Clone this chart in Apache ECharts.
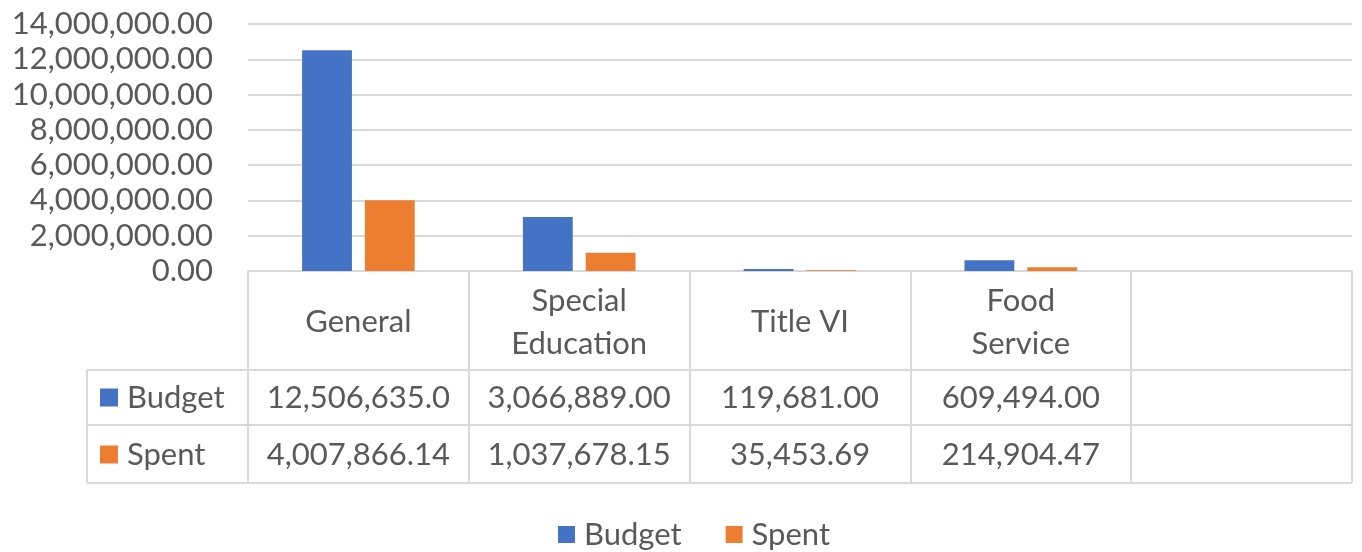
<!DOCTYPE html>
<html>
<head>
<meta charset="utf-8">
<script src="https://cdn.jsdelivr.net/npm/echarts@6/dist/echarts.min.js"></script>
<style>html,body{margin:0;padding:0;background:#fff}#c{width:1362px;height:552px}</style>
</head>
<body>
<div id="c"></div>
<script>
const categories = ['General', 'Special\nEducation', 'Title VI', 'Food\nService', ''];
const budget = [12506635.00, 3066889.00, 119681.00, 609494.00, null];
const spent = [4007866.14, 1037678.15, 35453.69, 214904.47, null];
const yTicks = { min: 0, max: 14000000, interval: 2000000 };

const FONT = 'Lato';
const FS = 31;
const TXT = '#595959';
const LINE = '#d9d9d9';
const fmt = v => v == null ? '' : v.toLocaleString('en-US', { minimumFractionDigits: 2, maximumFractionDigits: 2 });

const chart = echarts.init(document.getElementById('c'));
const gridLeft = 248, gridRight = 10, gridTop = 24, gridBottom = 281;
const axisY = 552 - gridBottom;
const rows = [axisY, 370, 425, 483];

function valueAxis(values, margin) {
  return {
    type: 'category', gridIndex: 0, position: 'bottom',
    data: values.map(fmt),
    axisLine: { show: false }, axisTick: { show: false },
    axisLabel: {
      interval: 0, margin: margin, verticalAlign: 'middle',
      color: TXT, fontFamily: FONT, fontSize: FS,
      width: 194, overflow: 'truncate', ellipsis: ''
    }
  };
}

chart.setOption({
  animation: false,
  textStyle: { fontFamily: FONT },
  grid: { left: gridLeft, right: gridRight, top: gridTop, bottom: gridBottom },
  legend: [
    {
      data: ['Budget', 'Spent'], bottom: -3, left: 553,
      icon: 'rect', itemWidth: 17, itemHeight: 17, itemGap: 44,
      textStyle: { color: TXT, fontFamily: FONT, fontSize: FS, padding: [0, 0, 0, 4] }
    },
    {
      data: ['Budget'], left: 100, top: 382, padding: 0, icon: 'rect', itemWidth: 18, itemHeight: 18,
      textStyle: { color: TXT, fontFamily: FONT, fontSize: FS, padding: [0, 0, 0, 4] }
    },
    {
      data: ['Spent'], left: 100, top: 439, padding: 0, icon: 'rect', itemWidth: 18, itemHeight: 18,
      textStyle: { color: TXT, fontFamily: FONT, fontSize: FS, padding: [0, 0, 0, 4] }
    }
  ],
  xAxis: [
    {
      type: 'category', data: categories, position: 'bottom',
      axisLine: { show: true, lineStyle: { color: LINE, width: 2 } },
      axisTick: { show: true, interval: 0, length: rows[3] - rows[0], lineStyle: { color: LINE, width: 2 } },
      axisLabel: {
        interval: 0, margin: 51, verticalAlign: 'middle', lineHeight: 43,
        color: TXT, fontFamily: FONT, fontSize: FS
      }
    },
    valueAxis(budget, rows[1] + 28 - rows[0]),
    valueAxis(spent, rows[2] + 30 - rows[0])
  ],
  yAxis: {
    type: 'value', min: yTicks.min, max: yTicks.max, interval: yTicks.interval,
    axisLine: { show: false }, axisTick: { show: false },
    splitLine: { lineStyle: { color: LINE, width: 2 } },
    axisLabel: { margin: 35, color: TXT, fontFamily: FONT, fontSize: FS, formatter: v => fmt(v) }
  },
  series: [
    { name: 'Budget', type: 'bar', data: budget, itemStyle: { color: '#4472c4' }, barGap: '26%', barCategoryGap: '49%' },
    { name: 'Spent', type: 'bar', data: spent, itemStyle: { color: '#ed7d31' } }
  ],
  graphic: [
    ...rows.slice(1).map(y => ({ type: 'line', shape: { x1: 87, y1: y, x2: 1362 - gridRight, y2: y }, style: { stroke: LINE, lineWidth: 2 }, silent: true })),
    { type: 'line', shape: { x1: 87, y1: rows[1], x2: 87, y2: rows[3] }, style: { stroke: LINE, lineWidth: 2 }, silent: true }
  ]
});
</script>
</body>
</html>
